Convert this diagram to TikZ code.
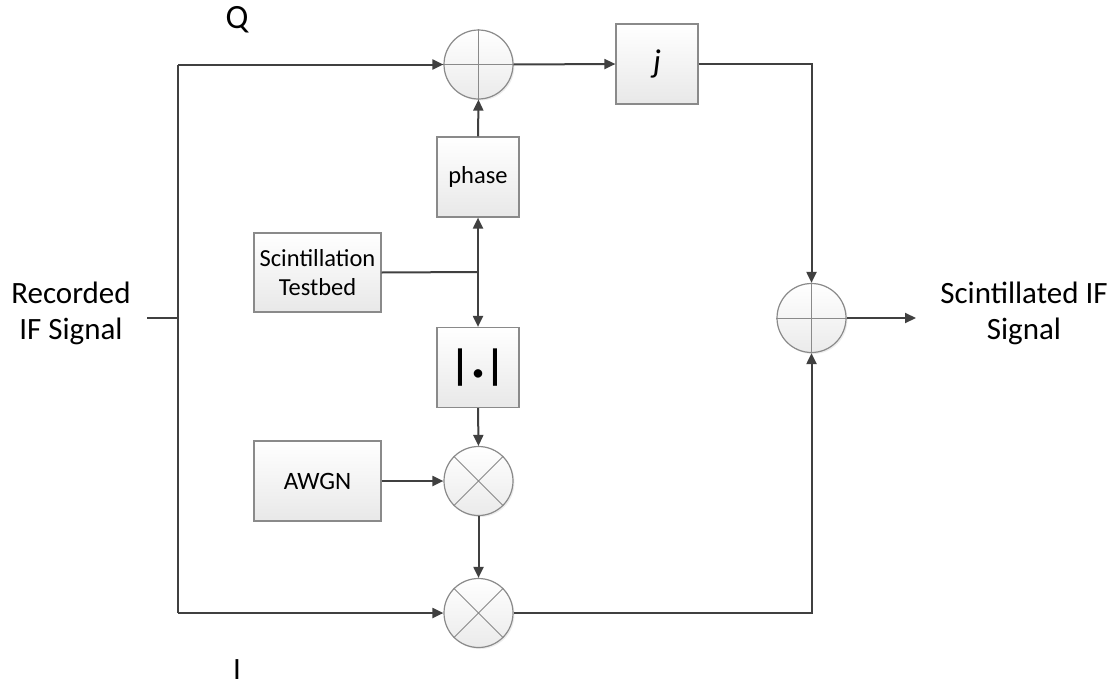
\documentclass[tikz,border=0pt]{standalone}
\usepackage{fontspec}
\setmainfont{Carlito}
\usetikzlibrary{arrows.meta,shadows}
\definecolor{linec}{HTML}{404040}
\definecolor{edgec}{HTML}{8A8A8A}
\tikzset{
  blk/.style={draw=edgec,line width=1.2pt,top color=white,bottom color=black!9,
    minimum width=82pt,minimum height=80pt,inner sep=0pt,align=center,
    font=\fontsize{24.5}{29}\selectfont},
  wblk/.style={blk,minimum width=127pt,minimum height=79pt},
  opc/.style={circle,draw=edgec,line width=1.2pt,top color=white,bottom color=black!8,
    minimum size=69pt,inner sep=0pt,
    drop shadow={shadow xshift=1.5pt,shadow yshift=-1.5pt,opacity=0.15}},
  cross/.style={draw=edgec,line width=0.9pt},
  conn/.style={draw=linec,line width=2pt},
  arr/.style={conn,-{Triangle[length=11pt,width=10pt]}},
  lbl/.style={font=\fontsize{31}{36}\selectfont,align=center,text=black},
}
\begin{document}
\begin{tikzpicture}[x=1pt,y=-1pt]
\useasboundingbox (0,0) rectangle (1118,688);
% nodes
\node[opc] (sumQ) at (478.5,64.5) {};
\node[blk] (jbox) at (657,64) {\fontsize{33}{35}\selectfont\itshape j};
\node[blk] (phase) at (478,177) {phase};
\node[wblk] (scint) at (317.5,272.5) {Scintillation\\Testbed};
\node[blk] (absb) at (478,367.5) {\fontsize{42}{42}\selectfont\bfseries |\hspace{3pt}{\fontsize{20}{20}\selectfont •}\hspace{3pt}|};
\node[wblk,minimum height=80pt] (awgn) at (317.5,481) {\fontsize{25}{29}\selectfont AWGN};
\node[opc] (mul1) at (478.5,481) {};
\node[opc] (mul2) at (478.5,613) {};
\node[opc] (sumO) at (811.5,318) {};
% crosses
\foreach \n in {sumQ,sumO}{
  \path[cross] (\n.north) -- (\n.south) (\n.west) -- (\n.east);
}
\foreach \n in {mul1,mul2}{
  \path[cross] (\n.north west) -- (\n.south east) (\n.north east) -- (\n.south west);
}
% labels
\node[lbl] (rec) at (71,313) {Recorded\\IF Signal};
\node[lbl] (scout) at (1024,313) {Scintillated IF\\Signal};
\node[font=\fontsize{34}{36}\selectfont] (qlab) at (237,20) {Q};
\node[font=\fontsize{31}{32}\selectfont,anchor=base,inner sep=0pt] (ilab) at (237,679) {I};
% coordinates
\coordinate (tl) at (178,64.5);
\coordinate (bl) at (178,613);
\coordinate (inp) at (147,318);
\coordinate (inj) at (178,318);
\coordinate (tr) at (811.5,64);
\coordinate (br) at (811.5,613);
\coordinate (junc) at (478,272);
\coordinate (outp) at (916,318);
% connectors
\path[conn] (tl) -- (bl);
\path[conn] (inp) -- (inj);
\path[arr] (tl) -- (sumQ.west);
\path[arr] (bl) -- (mul2.west);
\path[arr] (sumQ.east) -- (jbox.west);
\path[arr] (jbox.east) -- (tr) -- (sumO.north);
\path[arr] (mul2.east) -- (br) -- (sumO.south);
\path[arr] (sumO.east) -- (outp);
\path[arr] (phase.north) -- (sumQ.south);
\path[conn] (scint.east) -- (junc);
\path[arr] (junc) -- (phase.south);
\path[arr] (junc) -- (absb.north);
\path[arr] (absb.south) -- (mul1.north);
\path[arr] (awgn.east) -- (mul1.west);
\path[arr] (mul1.south) -- (mul2.north);
\end{tikzpicture}
\end{document}
